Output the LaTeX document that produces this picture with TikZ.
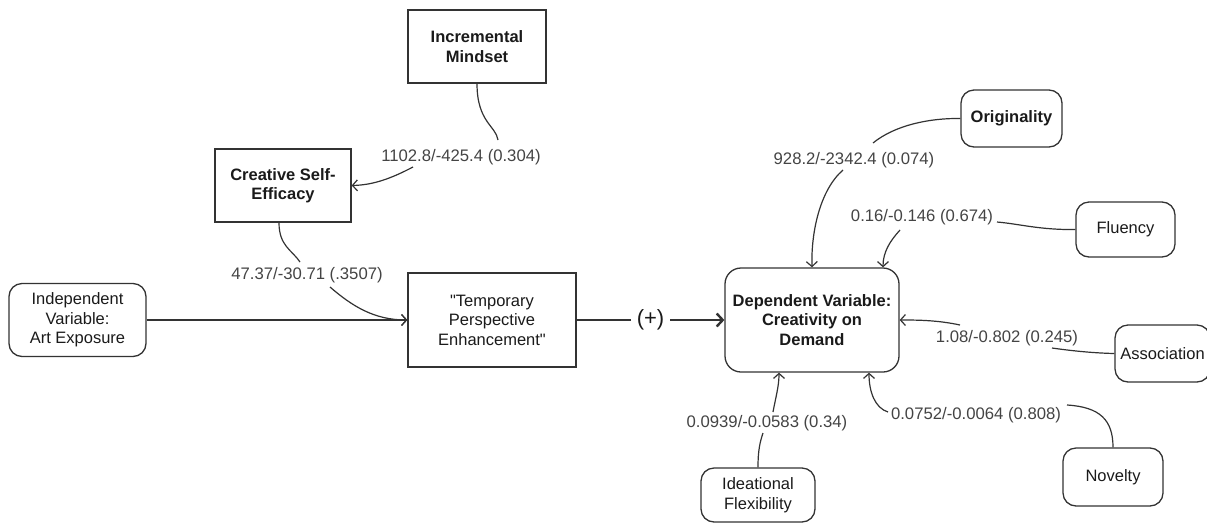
\documentclass[tikz,border=0pt]{standalone}
\usepackage{fontspec}
\setmainfont[Ligatures=TeXOff]{Liberation Sans}
\usetikzlibrary{arrows.meta}
\definecolor{ln}{HTML}{333333}
\definecolor{lbl}{HTML}{444444}
\definecolor{tx}{HTML}{1A1A1A}
\tikzset{
  box/.style={draw=ln, line width=1.3pt, text=tx, align=center, inner sep=0pt, font=\fontsize{16.5}{19.5}\selectfont},
  sbox/.style={box},
  rbox/.style={box, rounded corners=13pt},
  lab/.style={text=lbl, inner sep=0pt, font=\fontsize{16.7}{20}\selectfont},
  conn/.style={draw=ln, line width=1.2pt},
  arr/.style={conn, -{Straight Barb[length=5pt,width=11pt]}},
  bigarr/.style={draw=ln, line width=2.4pt, -{Straight Barb[length=6pt,width=13pt]}},
}
\begin{document}
\begin{tikzpicture}[x=1pt,y=-1pt]
\useasboundingbox (0,0) rectangle (1207,523);
% nodes
\node[sbox, minimum width=138pt, minimum height=73pt] (im) at (477,46.5) {\bfseries Incremental\\\bfseries Mindset};
\node[sbox, minimum width=136pt, minimum height=73pt] (cse) at (283,185.5) {\bfseries Creative Self-\\\bfseries Efficacy};
\node[rbox, minimum width=137pt, minimum height=73pt] (iv) at (77.5,320) {Independent\\Variable:\\Art Exposure};
\node[sbox, minimum width=168pt, minimum height=94pt] (tp) at (492,320) {"Temporary\\Perspective\\Enhancement"};
\node[rbox, rounded corners=16pt, minimum width=174pt, minimum height=104pt] (dv) at (812,320) {\bfseries Dependent Variable:\\\bfseries Creativity on\\\bfseries Demand};
\node[rbox, minimum width=101pt, minimum height=57pt] (or) at (1011.5,118.5) {\bfseries Originality};
\node[rbox, minimum width=99pt, minimum height=55pt] (fl) at (1125.5,229.5) {Fluency};
\node[rbox, minimum width=95pt, minimum height=57pt] (as) at (1162.5,353.5) {Association};
\node[rbox, minimum width=100pt, minimum height=58pt] (nv) at (1113,477) {Novelty};
\node[rbox, minimum width=114pt, minimum height=54pt] (ifx) at (758,495) {Ideational\\Flexibility};
% labels
\node[lab] (l1) at (461,157) {1102.8/-425.4 (0.304)};
\node[lab] (l2) at (307,275) {47.37/-30.71 (.3507)};
\node[lab] (l3) at (854,160) {928.2/-2342.4 (0.074)};
\node[lab] (l4) at (922,217) {0.16/-0.146 (0.674)};
\node[lab] (l5) at (1007,338) {1.08/-0.802 (0.245)};
\node[lab] (l6) at (976,415) {0.0752/-0.0064 (0.808)};
\node[lab] (l7) at (767,423) {0.0939/-0.0583 (0.34)};
% break points
\coordinate (c1) at (498,140);
\coordinate (c2) at (413,167);
\coordinate (c3) at (300,262);
\coordinate (c4) at (330,287);
\coordinate (c5) at (873,143);
\coordinate (c6) at (843,170);
\coordinate (c7) at (997,222);
\coordinate (c8) at (900,230);
\coordinate (c9) at (1052,348);
\coordinate (c10) at (960,325);
\coordinate (c11) at (1067,405);
\coordinate (c12) at (888,412);
\coordinate (c13) at (763,433);
\coordinate (c14) at (773,412);
% connectors
\draw[conn] (im.south) .. controls (477,122) and (496,126) .. (c1);
\draw[arr] (c2) .. controls (392,178) and (374,185) .. (cse.east);
\draw[conn] (cse.south -| 279,0) .. controls (279,246) and (292,250) .. (c3);
\draw[arr] (c4) .. controls (352,306) and (374,320) .. (tp.west);
\draw[arr] (iv.east) -- (tp.west);
\draw[bigarr] (tp.east) -- node[fill=white, inner xsep=6pt, inner ysep=0pt, text=tx, font=\fontsize{22}{24}\selectfont] (plus) {(+)} (dv.west);
\draw[conn] (or.west) .. controls (930,118) and (895,125) .. (c5);
\draw[arr] (c6) .. controls (820,190) and (811,232) .. (dv.north -| 812,0);
\draw[conn] (fl.west) .. controls (1040,230) and (1020,224) .. (c7);
\draw[arr] (c8) .. controls (890,241) and (883,252) .. (dv.north -| 883,0);
\draw[conn] (as.west) .. controls (1090,353) and (1066,350) .. (c9);
\draw[arr] (c10) .. controls (937,320) and (916,320) .. (dv.east);
\draw[conn] (nv.north) .. controls (1113,420) and (1100,407) .. (c11);
\draw[arr] (c12) .. controls (875,408) and (869,392) .. (dv.south -| 869,0);
\draw[conn] (ifx.north) .. controls (758,450) and (760,442) .. (c13);
\draw[arr] (c14) .. controls (776,396) and (779,386) .. (dv.south -| 779,0);
\end{tikzpicture}
\end{document}
